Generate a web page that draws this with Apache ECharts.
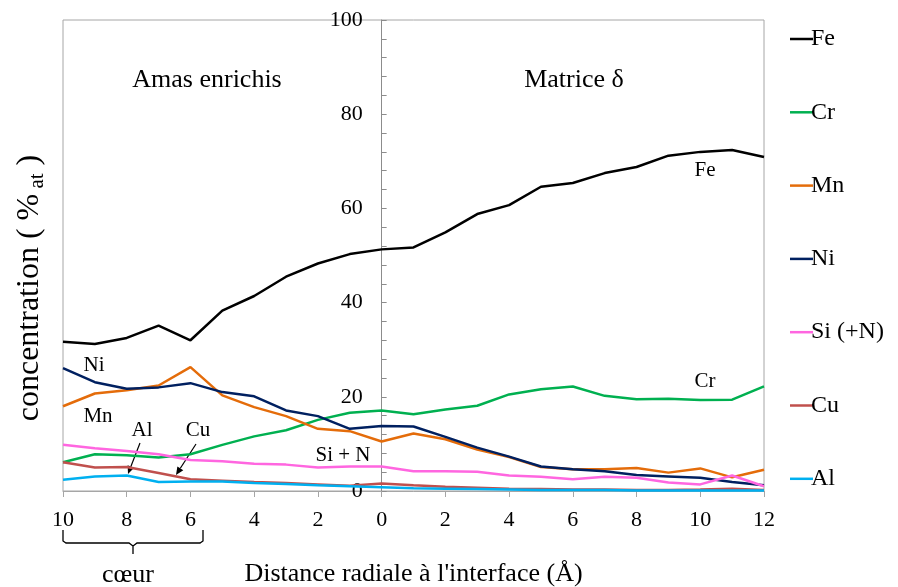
<!DOCTYPE html>
<html>
<head>
<meta charset="utf-8">
<script src="https://cdn.jsdelivr.net/npm/echarts@6/dist/echarts.min.js"></script>
<style>html,body{margin:0;padding:0;background:#fff}#c{width:898px;height:587px}</style>
</head>
<body>
<div id="c"></div>
<script>
const distances = [-10,-9,-8,-7,-6,-5,-4,-3,-2,-1,0,1,2,3,4,5,6,7,8,9,10,11,12];
const fe = [31.7,31.2,32.5,35.1,32.0,38.3,41.4,45.5,48.3,50.3,51.3,51.7,54.9,58.8,60.7,64.6,65.4,67.5,68.8,71.2,72.0,72.4,70.9];
const cr = [6.1,7.8,7.6,7.1,7.8,9.8,11.6,12.9,15.1,16.6,17.1,16.3,17.3,18.1,20.5,21.6,22.2,20.2,19.5,19.6,19.3,19.4,22.2];
const mn = [18.0,20.7,21.4,22.4,26.3,20.3,17.8,15.9,13.2,12.7,10.5,12.2,11.0,8.8,7.2,5.1,4.6,4.6,4.9,3.9,4.8,2.9,4.5];
const ni = [26.1,23.1,21.7,22.0,22.9,21.0,20.1,17.1,15.9,13.2,13.8,13.7,11.5,9.2,7.3,5.2,4.6,4.2,3.4,3.1,2.8,1.9,1.2];
const si = [9.8,9.1,8.5,7.8,6.6,6.3,5.8,5.6,5.0,5.2,5.2,4.2,4.2,4.1,3.3,3.0,2.5,3.0,2.8,1.8,1.4,3.3,1.0];
const cu = [6.1,5.0,5.1,3.8,2.5,2.2,1.9,1.7,1.4,1.1,1.6,1.2,0.9,0.7,0.5,0.4,0.3,0.3,0.2,0.2,0.3,0.5,0.2];
const al = [2.4,3.1,3.3,1.9,2.0,2.0,1.7,1.5,1.2,1.0,0.8,0.6,0.5,0.4,0.3,0.2,0.2,0.2,0.1,0.1,0.1,0.1,0.1];
const seriesNames = ['Fe','Cr','Mn','Ni','Si (+N)','Cu','Al'];
const seriesValues = [fe, cr, mn, ni, si, cu, al];
const seriesColors = ['#000000','#00b050','#e46c0a','#002060','#ff66e0','#c0504d','#00b0f0'];

const FONT = '"Liberation Serif", "Times New Roman", serif';
const chart = echarts.init(document.getElementById('c'), null, {renderer: 'canvas'});

const GRID_L = 63, GRID_R = 134, W = 898;
const X_MIN = -10, X_MAX = 12;
const yAxisOffset = -(W - GRID_L - GRID_R) * (0 - X_MIN) / (X_MAX - X_MIN);

function arrow(x1, y1, x2, y2) {
  const dx = x2 - x1, dy = y2 - y1, L = Math.hypot(dx, dy);
  const ux = dx / L, uy = dy / L, hl = 8, hw = 3.5;
  const bx = x2 - ux * hl, by = y2 - uy * hl;
  return [
    {type: 'line', shape: {x1: x1, y1: y1, x2: bx, y2: by}, style: {stroke: '#000', lineWidth: 1.2}},
    {type: 'polygon', shape: {points: [[x2, y2], [bx - uy * hw, by + ux * hw], [bx + uy * hw, by - ux * hw]]}, style: {fill: '#000'}}
  ];
}
function label(text, x, y, size) {
  return {type: 'text', x: x, y: y, style: {text: text, font: (size || 21) + 'px ' + FONT, fill: '#000', align: 'center', verticalAlign: 'middle'}};
}

const option = {
  animation: false,
  backgroundColor: '#fff',
  grid: {left: GRID_L, right: GRID_R, top: 20, bottom: 96, show: true, borderColor: '#a6a6a6', borderWidth: 1,
         containLabel: false, outerBoundsMode: 'none'},
  legend: {
    orient: 'vertical', left: 785, top: 22, itemGap: 49.3,
    icon: 'rect', itemWidth: 23, itemHeight: 2.5,
    textStyle: {fontFamily: FONT, fontSize: 24, color: '#000', lineHeight: 24, padding: [0, 0, 0, -7]},
    data: seriesNames
  },
  xAxis: {
    type: 'value', min: X_MIN, max: X_MAX, interval: 2,
    axisLine: {show: true, onZero: false, lineStyle: {color: '#a6a6a6', width: 1}},
    axisTick: {show: true, length: 6, lineStyle: {color: '#a6a6a6'}},
    axisLabel: {fontFamily: FONT, fontSize: 22, color: '#000', margin: 18, formatter: v => String(Math.abs(v))},
    splitLine: {show: false},
    name: "Distance radiale à l'interface (Å)", nameLocation: 'middle', nameGap: 70,
    nameTextStyle: {fontFamily: FONT, fontSize: 26, color: '#000'}
  },
  yAxis: {
    type: 'value', min: 0, max: 100, interval: 20, offset: yAxisOffset,
    axisLine: {show: true, onZero: false, lineStyle: {color: '#8c8c8c', width: 1}},
    axisTick: {show: true, inside: true, length: 5, lineStyle: {color: '#8c8c8c'}},
    minorTick: {show: true, splitNumber: 5, length: 5, lineStyle: {color: '#8c8c8c'}},
    axisLabel: {fontFamily: FONT, fontSize: 22, color: '#000', margin: 19},
    splitLine: {show: false}
  },
  series: seriesNames.map((n, i) => ({
    name: n, type: 'line', showSymbol: false, symbol: 'none',
    lineStyle: {color: seriesColors[i], width: 2.5},
    itemStyle: {color: seriesColors[i]},
    data: distances.map((d, j) => [d, seriesValues[i][j]])
  })),
  graphic: [
    {type: 'text', x: 30, y: 288, rotation: Math.PI / 2,
     style: {text: '{m|concentration ( %}{s| at}{m| )}', align: 'center', verticalAlign: 'middle',
       rich: {m: {font: '32px ' + FONT, fill: '#000'}, s: {font: '21px ' + FONT, fill: '#000', padding: [14, 0, 0, 0]}}}},
    label('Amas enrichis', 207, 80, 26),
    label('Matrice δ', 574, 80, 26),
    label('Ni', 94, 365),
    label('Mn', 98, 416),
    label('Al', 142, 430),
    label('Cu', 198, 430),
    label('Si + N', 343, 455),
    label('Fe', 705, 170),
    label('Cr', 705, 381),
    ...arrow(140, 443, 128, 474),
    ...arrow(196, 444, 176, 475),
    {type: 'polyline', shape: {points: [[63, 530], [63, 541], [66, 543], [129, 543], [133, 546], [133, 554], [133, 546], [137, 543], [200, 543], [203, 541], [203, 530]]},
     style: {stroke: '#000', lineWidth: 1.3, fill: null}},
    label('cœur', 128, 575, 26)
  ]
};
chart.setOption(option);
</script>
</body>
</html>
